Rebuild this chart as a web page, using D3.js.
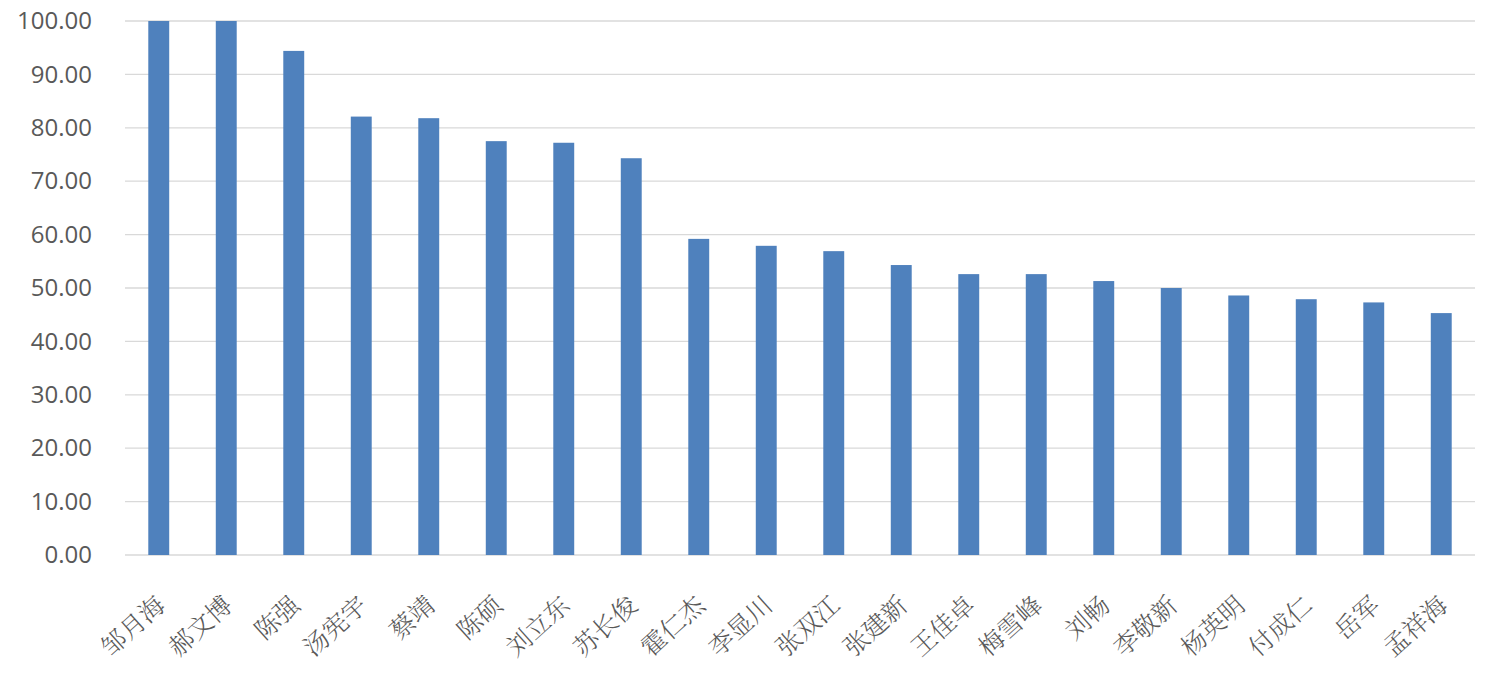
<!DOCTYPE html>
<html><head><meta charset="utf-8">
<script src="https://cdn.jsdelivr.net/npm/d3@7"></script>
<style>body{margin:0;background:#fff}</style>
</head><body>
<svg id="c" width="1500" height="683"></svg>
<script>
const categories = ["邹月海","郝文博","陈强","汤宪宇","蔡靖","陈硕","刘立东","苏长俊","霍仁杰","李显川","张双江","张建新","王佳卓","梅雪峰","刘畅","李敬新","杨英明","付成仁","岳军","孟祥海"];
const values = [100.0,100.0,94.4,82.1,81.8,77.5,77.2,74.3,59.2,57.9,56.9,54.3,52.6,52.6,51.3,50.0,48.6,47.9,47.3,45.3];
const yTicks = [0,10,20,30,40,50,60,70,80,90,100];

const svg = d3.select("#c");
const m = {left:125, right:25, top:21, bottom:128};
const W = 1500, H = 683;
const x = d3.scaleBand().domain(categories).range([m.left, W-m.right]).paddingInner(0.69).paddingOuter(0.345);
const y = d3.scaleLinear().domain([0,100]).range([H-m.bottom, m.top]);

// gridlines
svg.append("g").selectAll("line").data(yTicks).join("line")
  .attr("x1", m.left).attr("x2", W-m.right)
  .attr("y1", d=>y(d)).attr("y2", d=>y(d))
  .attr("stroke", "#d9d9d9").attr("stroke-width", 1.3);

// y axis labels
const ya = svg.append("g").attr("transform",`translate(${m.left},0)`)
  .call(d3.axisLeft(y).tickValues(yTicks).tickFormat(d3.format(".2f")).tickSize(0).tickPadding(33));
ya.select(".domain").remove();
ya.selectAll("text").attr("font-family","'Open Sans', 'Noto Sans', sans-serif").attr("font-size",24).attr("fill","#595959");

// bars
svg.append("g").selectAll("rect").data(values).join("rect")
  .attr("x",(d,i)=>x(categories[i])).attr("width",x.bandwidth())
  .attr("y",d=>y(d)).attr("height",d=>y(0)-y(d))
  .attr("fill","#4f81bd");

// x axis labels
const xa = svg.append("g").attr("transform",`translate(0,${y(0)})`)
  .call(d3.axisBottom(x).tickSize(0).tickPadding(0));
xa.select(".domain").remove();
xa.selectAll("text")
  .attr("font-family","'Noto Serif CJK SC','Noto Sans CJK SC',sans-serif")
  .attr("font-size",25).attr("font-weight",300).attr("fill","#595959")
  .attr("text-anchor","end")
  .attr("dy","0.35em")
  .attr("transform","translate(2,46) rotate(-42)");
</script>
</body></html>
